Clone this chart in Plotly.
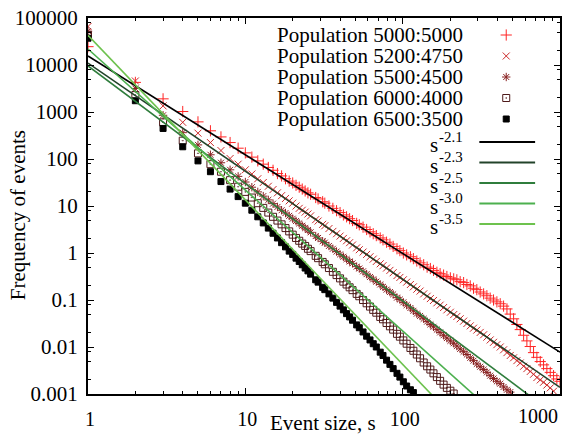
import plotly.graph_objects as go

# Event sizes s at which the frequency distributions are sampled
event_size = [1, 2, 3, 4, 5, 6, 7, 8, 9, 10, 11, 12, 13, 14, 15, 16, 17, 18, 19, 20,
              21, 22, 23, 24, 25, 26, 28, 29, 31, 32, 34, 36, 38, 40, 42, 44, 46, 48, 51, 53,
              56, 59, 62, 65, 68, 72, 75, 79, 83, 87, 92, 96, 101, 106, 112, 117, 123, 129, 136, 143,
              150, 157, 165, 173, 182, 191, 201, 211, 221, 232, 244, 256, 269, 282, 296, 311, 327, 343,
              360, 378, 397, 417, 438, 460, 483, 507, 532, 559, 587, 616, 647, 679, 713, 749, 786, 825,
              867, 910, 955, 1000]

# log10 of the frequency of events, one value per event size (starting at s = 1)
log_freq_5000_5000 = [4.39, 3.63, 3.28, 3.01, 2.79, 2.60, 2.47, 2.35, 2.23, 2.13,
                      2.04, 1.96, 1.89, 1.82, 1.76, 1.69, 1.64, 1.58, 1.53, 1.49,
                      1.44, 1.40, 1.36, 1.32, 1.28, 1.25, 1.18, 1.15, 1.09, 1.06,
                      1.00, 0.95, 0.90, 0.86, 0.81, 0.77, 0.73, 0.69, 0.63, 0.60,
                      0.55, 0.50, 0.45, 0.41, 0.37, 0.32, 0.28, 0.23, 0.19, 0.14,
                      0.09, 0.05, 0.00, -0.04, -0.08, -0.12, -0.17, -0.21, -0.25, -0.30,
                      -0.33, -0.37, -0.41, -0.44, -0.47, -0.50, -0.53, -0.55, -0.57, -0.61,
                      -0.63, -0.67, -0.70, -0.75, -0.78, -0.83, -0.87, -0.91, -0.96, -1.00,
                      -1.04, -1.08, -1.13, -1.19, -1.30, -1.40, -1.52, -1.63, -1.75, -1.87,
                      -1.99, -2.12, -2.22, -2.31, -2.38, -2.46, -2.54, -2.61, -2.68, -2.73]
log_freq_5200_4750 = [4.82, 3.66, 3.13, 2.78, 2.55, 2.35, 2.18, 2.01, 1.89, 1.77,
                      1.68, 1.58, 1.50, 1.42, 1.35, 1.28, 1.22, 1.16, 1.11, 1.06,
                      1.00, 0.95, 0.91, 0.87, 0.83, 0.79, 0.71, 0.68, 0.61, 0.58,
                      0.52, 0.46, 0.41, 0.36, 0.31, 0.26, 0.22, 0.17, 0.11, 0.07,
                      0.02, -0.03, -0.08, -0.13, -0.18, -0.23, -0.27, -0.32, -0.37, -0.42,
                      -0.48, -0.52, -0.57, -0.62, -0.67, -0.72, -0.77, -0.81, -0.87, -0.92,
                      -0.97, -1.01, -1.06, -1.11, -1.16, -1.21, -1.26, -1.31, -1.35, -1.40,
                      -1.45, -1.50, -1.55, -1.60, -1.64, -1.69, -1.74, -1.79, -1.85, -1.90,
                      -1.95, -2.00, -2.06, -2.12, -2.18, -2.23, -2.29, -2.34, -2.41, -2.46,
                      -2.52, -2.58, -2.65, -2.70, -2.75, -2.81, -2.87, -2.94]
log_freq_5500_4500 = [4.72, 3.50, 2.93, 2.56, 2.30, 2.09, 1.92, 1.77, 1.63, 1.51,
                      1.40, 1.30, 1.21, 1.13, 1.05, 0.98, 0.91, 0.85, 0.79, 0.73,
                      0.68, 0.63, 0.58, 0.53, 0.49, 0.44, 0.36, 0.32, 0.25, 0.22,
                      0.15, 0.09, 0.03, -0.03, -0.08, -0.13, -0.18, -0.22, -0.29, -0.33,
                      -0.39, -0.45, -0.51, -0.56, -0.61, -0.67, -0.72, -0.78, -0.83, -0.88,
                      -0.95, -0.99, -1.05, -1.11, -1.17, -1.23, -1.29, -1.34, -1.40, -1.46,
                      -1.52, -1.57, -1.63, -1.69, -1.75, -1.81, -1.87, -1.92, -1.98, -2.04,
                      -2.10, -2.16, -2.23, -2.29, -2.36, -2.42, -2.48, -2.54, -2.61, -2.67,
                      -2.73, -2.78, -2.85, -2.91, -2.96]
log_freq_6000_4000 = [4.64, 3.36, 2.78, 2.39, 2.12, 1.89, 1.73, 1.55, 1.41, 1.30,
                      1.18, 1.06, 0.96, 0.86, 0.77, 0.69, 0.61, 0.53, 0.46, 0.39,
                      0.32, 0.26, 0.20, 0.15, 0.09, 0.04, -0.06, -0.11, -0.19, -0.24,
                      -0.32, -0.40, -0.47, -0.54, -0.61, -0.67, -0.73, -0.79, -0.87, -0.92,
                      -1.00, -1.07, -1.14, -1.21, -1.27, -1.36, -1.41, -1.49, -1.56, -1.63,
                      -1.72, -1.78, -1.86, -1.93, -2.02, -2.08, -2.16, -2.24, -2.33, -2.41,
                      -2.48, -2.56, -2.64, -2.72, -2.80, -2.87, -2.93, -2.99]
log_freq_6500_3500 = [4.57, 3.24, 2.65, 2.26, 1.96, 1.73, 1.52, 1.36, 1.20, 1.06,
                      0.91, 0.77, 0.64, 0.53, 0.42, 0.32, 0.22, 0.13, 0.04, -0.03,
                      -0.11, -0.18, -0.25, -0.32, -0.38, -0.45, -0.57, -0.62, -0.73, -0.78,
                      -0.87, -0.96, -1.05, -1.13, -1.21, -1.29, -1.36, -1.43, -1.53, -1.59,
                      -1.68, -1.77, -1.85, -1.93, -2.00, -2.11, -2.18, -2.28, -2.37, -2.46,
                      -2.56, -2.64, -2.74, -2.83, -2.91, -2.97]

series_labels = ["Population 5000:5000", "Population 5200:4750", "Population 5500:4500",
                 "Population 6000:4000", "Population 6500:3500"]
series_logs = [log_freq_5000_5000, log_freq_5200_4750, log_freq_5500_4500,
               log_freq_6000_4000, log_freq_6500_3500]
series_colors = ["#ff2424", "#cc2b2b", "#8a2222", "#4e1a1a", "#000000"]
series_symbols = ["cross-thin", "x-thin", "asterisk", "square-open-dot", "square"]
series_sizes = [8, 7, 7, 7, 6]

# Power-law guides A * s^-k
fit_exponents = [2.1, 2.3, 2.5, 3.0, 3.5]
fit_amplitudes = [15500, 11000, 9550, 21900, 42700]
fit_exponent_text = ["-2.1", "-2.3", "-2.5", "-3.0", "-3.5"]
fit_colors = ["#000000", "#22432a", "#2f7d3c", "#4cb04f", "#6dc24e"]
fit_span = [1, 1000]

x_tick_values = [1, 10, 100, 1000]
x_tick_text = ["1", "10", "100", ""]
y_tick_values = [1e5, 1e4, 1e3, 1e2, 1e1, 1, 0.1, 0.01, 0.001]
y_tick_text = ["100000", "10000", "1000", "100", "10", "1", "0.1", "0.01", "0.001"]

FONT = "Liberation Serif"
W, H = 563, 435
ML, MR, MT, MB = 88, 1, 18, 41
PW, PH = W - ML - MR, H - MT - MB


def px_to_paper_x(px):
    return (px - ML) / PW


def px_to_paper_y(py):
    return (H - MB - py) / PH


def text_note(x, y, text, size, xanchor="right", **extra):
    return dict(xref="paper", yref="paper", x=x, y=y, text=text, showarrow=False,
                xanchor=xanchor, yanchor="middle",
                font=dict(family=FONT, size=size, color="#000000"), **extra)


fig = go.Figure()

for label, logs, color, symbol, size in zip(series_labels, series_logs, series_colors,
                                             series_symbols, series_sizes):
    fig.add_trace(go.Scatter(
        x=event_size[:len(logs)], y=[10 ** v for v in logs],
        mode="markers", name=label, showlegend=False,
        marker=dict(symbol=symbol, size=size, color=color,
                    line=dict(color=color, width=1)),
    ))

for k, amp, color, label in zip(fit_exponents, fit_amplitudes, fit_colors, fit_exponent_text):
    fig.add_trace(go.Scatter(
        x=fit_span, y=[amp * s ** (-k) for s in fit_span],
        mode="lines", name="s" + label, showlegend=False,
        line=dict(color=color, width=1.6),
    ))

# Key: text right-aligned, sample to the right
annotations = []
shapes = []
text_right = px_to_paper_x(467)
s_right = px_to_paper_x(441)
marker_x = px_to_paper_x(508)
line_x0, line_x1 = px_to_paper_x(481), px_to_paper_x(537)
for i, (label, color, symbol, size) in enumerate(zip(series_labels, series_colors,
                                                      series_symbols, series_sizes)):
    yp = 35 + 21 * i
    annotations.append(text_note(text_right, px_to_paper_y(yp), label, 21))
    fig.add_trace(go.Scatter(
        x=[marker_x], y=[px_to_paper_y(yp)], xaxis="x2", yaxis="y2",
        mode="markers", showlegend=False, hoverinfo="skip",
        marker=dict(symbol=symbol, size=size, color=color, line=dict(color=color, width=1)),
    ))
for i, (expo, color) in enumerate(zip(fit_exponent_text, fit_colors)):
    yp = 142 + 20.5 * i
    annotations.append(text_note(s_right, px_to_paper_y(yp + 3), "s", 21))
    annotations.append(text_note(text_right, px_to_paper_y(yp - 5), expo, 15))
    shapes.append(dict(type="line", xref="paper", yref="paper",
                       x0=line_x0, x1=line_x1, y0=px_to_paper_y(yp), y1=px_to_paper_y(yp),
                       line=dict(color=color, width=2)))

# Axis titles and the last x tick label (kept inside the canvas)
annotations.append(text_note(px_to_paper_x(18), px_to_paper_y(215), "Frequency of events", 21,
                             xanchor="center", textangle=-90))
annotations.append(text_note(px_to_paper_x(324), px_to_paper_y(423), "Event size, s", 21,
                             xanchor="center"))
annotations.append(text_note(1.0, px_to_paper_y(416), "1000", 20))

axis_common = dict(showgrid=False, zeroline=False, showline=True, linecolor="#000000",
                   linewidth=2, mirror="allticks", ticks="inside", ticklen=6,
                   tickwidth=1, tickcolor="#000000")

x_minor = [m * 10 ** d for d in range(3) for m in range(2, 10)]
y_minor = [m * 10.0 ** d for d in range(-3, 5) for m in (2, 5, 8)]

fig.update_layout(
    width=W, height=H, autosize=False,
    margin=dict(l=ML, r=MR, t=MT, b=MB, pad=0),
    paper_bgcolor="#ffffff", plot_bgcolor="#ffffff",
    font=dict(family=FONT, size=20, color="#000000"),
    xaxis=dict(type="log", range=[0, 3], tickvals=x_tick_values, ticktext=x_tick_text,
               tickfont=dict(family=FONT, size=20), ticklabelstandoff=6, ticklabelshift=2,
               minor=dict(tickvals=x_minor, ticks="inside", ticklen=3, tickcolor="#000000",
                          showgrid=False),
               **axis_common),
    yaxis=dict(type="log", range=[-3, 5], tickvals=y_tick_values, ticktext=y_tick_text,
               tickfont=dict(family=FONT, size=21), ticklabelstandoff=4,
               minor=dict(tickvals=y_minor, ticks="inside", ticklen=3, tickcolor="#000000",
                          showgrid=False),
               **axis_common),
    xaxis2=dict(overlaying="x", anchor="y2", range=[0, 1], visible=False, fixedrange=True),
    yaxis2=dict(overlaying="y", anchor="x2", range=[0, 1], visible=False, fixedrange=True),
    annotations=annotations,
    shapes=shapes,
)

fig.write_html("out.html")
